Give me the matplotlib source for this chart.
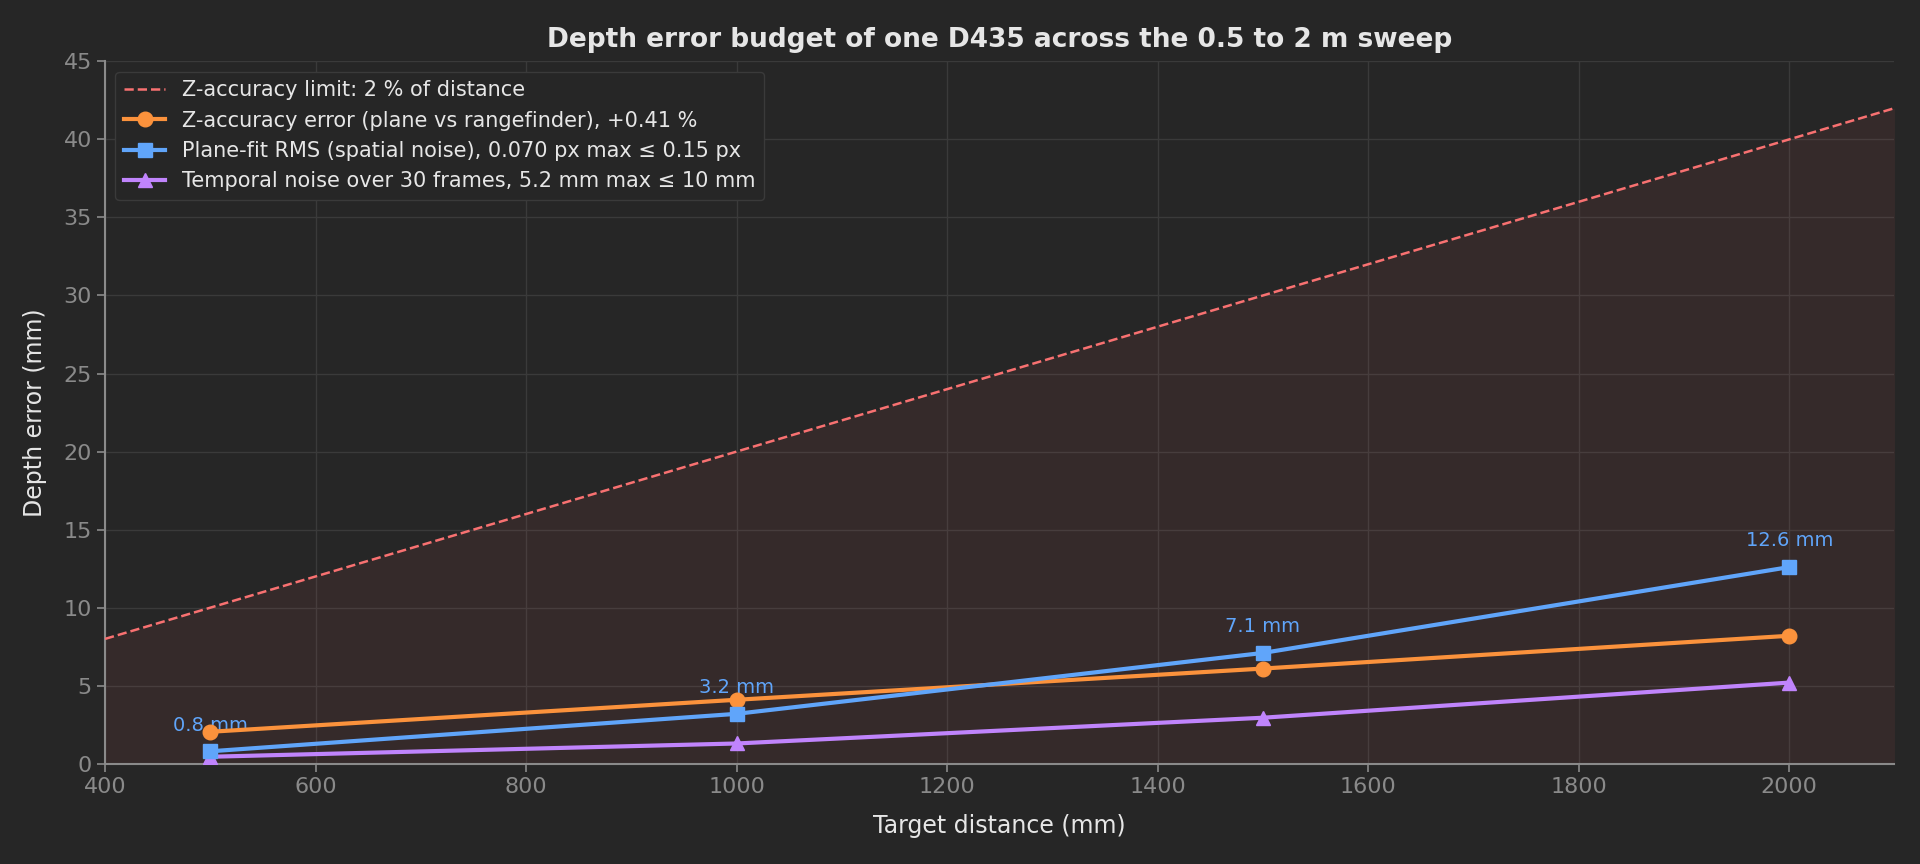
import matplotlib
matplotlib.use("Agg")
import matplotlib.pyplot as plt
import numpy as np

distance_mm = [500, 1000, 1500, 2000]
z_accuracy_err = [2.05, 4.1, 6.1, 8.2]
plane_fit_rms = [0.8, 3.2, 7.1, 12.6]
temporal_noise = [0.45, 1.3, 2.95, 5.2]
limit_x = [400, 2100]
limit_pct = 2.0

BG = "#262626"
plt.rcParams['font.family'] = ['DejaVu Sans']
fig = plt.figure(figsize=(19.2, 8.64), dpi=100, facecolor=BG)
ax = fig.add_axes([0.0547, 0.116, 0.932, 0.813])
ax.set_facecolor(BG)

lx = np.array(limit_x, dtype=float)
ly = lx * limit_pct / 100.0
ax.fill_between(lx, 0, ly, color="#ff6b6b", alpha=0.07, linewidth=0, zorder=1)
ax.plot(lx, ly, ls="--", color="#f87171", lw=1.8, label="Z-accuracy limit: 2 % of distance", zorder=3)
ax.plot(distance_mm, z_accuracy_err, color="#fb923c", lw=3, marker="o", ms=10.5,
        label="Z-accuracy error (plane vs rangefinder), +0.41 %", zorder=4)
ax.plot(distance_mm, plane_fit_rms, color="#60a5fa", lw=3, marker="s", ms=10.5,
        label="Plane-fit RMS (spatial noise), 0.070 px max \u2264 0.15 px", zorder=5)
ax.plot(distance_mm, temporal_noise, color="#c084fc", lw=3, marker="^", ms=10.5,
        label="Temporal noise over 30 frames, 5.2 mm max \u2264 10 mm", zorder=4)

for x, y in zip(distance_mm, plane_fit_rms):
    ax.annotate(f"{y:.1f} mm", (x, y), xytext=(0, 12), textcoords="offset points",
                ha="center", va="bottom", color="#60a5fa", fontsize=14)

ax.set_xlim(400, 2100)
ax.set_ylim(0, 45)
ax.set_xticks(np.arange(400, 2001, 200))
ax.set_yticks(np.arange(0, 46, 5))
ax.grid(True, color="#3a3a3a", lw=1)
ax.set_axisbelow(True)
for s in ["top", "right"]:
    ax.spines[s].set_visible(False)
for s in ["left", "bottom"]:
    ax.spines[s].set_color("#8a8a8a")
    ax.spines[s].set_linewidth(1.5)
ax.tick_params(colors="#8a8a8a", labelsize=16, length=6, width=1.2)
ax.set_xlabel("Target distance (mm)", color="#e6e6e6", fontsize=17, labelpad=12)
ax.set_ylabel("Depth error (mm)", color="#e6e6e6", fontsize=17, labelpad=12)
ax.set_title("Depth error budget of one D435 across the 0.5 to 2 m sweep",
             color="#e6e6e6", fontsize=19, fontweight="bold", pad=10)
leg = ax.legend(loc="upper left", fontsize=15, facecolor="#262626", edgecolor="#3a3a3a",
                labelcolor="#e6e6e6", framealpha=1.0)
fig.savefig("out.png", dpi=100, facecolor=BG)
